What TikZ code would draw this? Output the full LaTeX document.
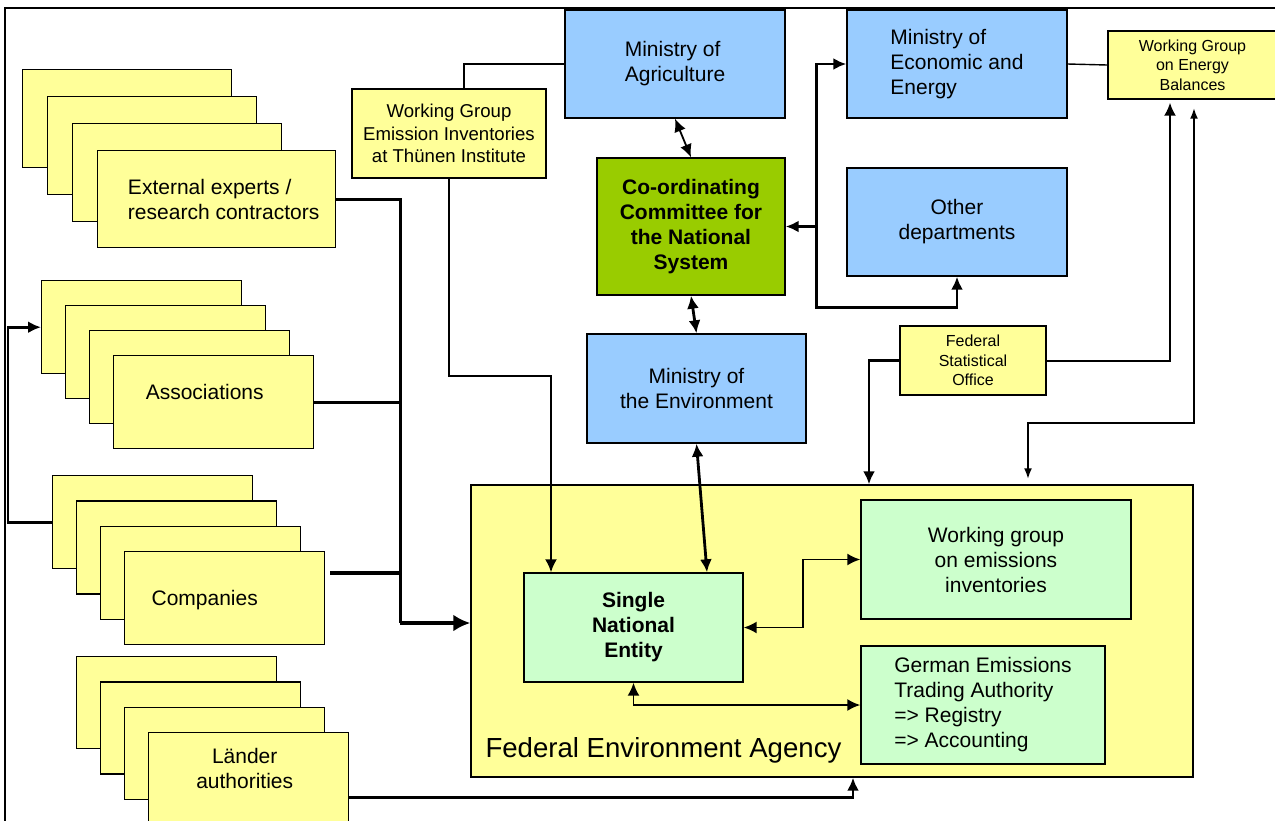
\documentclass[tikz,border=0pt]{standalone}
\usepackage{fontspec}
\setmainfont{Liberation Sans}
\usepackage{tikz}
\usetikzlibrary{arrows.meta}
\usetikzlibrary{positioning}
\usetikzlibrary{calc}
\definecolor{yellowbox}{RGB}{255,255,153}
\definecolor{bluebox}{RGB}{153,204,255}
\definecolor{greenbox}{RGB}{153,204,0}
\definecolor{mintbox}{RGB}{204,255,204}
\newcommand{\boxfont}{\fontsize{21}{25}\selectfont}
\newcommand{\midboxfont}{\fontsize{18.6}{22.5}\selectfont}
\newcommand{\smallboxfont}{\fontsize{16}{19.5}\selectfont}
\newcommand{\agencyfont}{\fontsize{27.6}{33}\selectfont}
\tikzstyle{card} = [rectangle, draw, fill=yellowbox, line width=1.4pt, anchor=north west, minimum width=209pt, minimum height=98pt, inner sep=0pt]
\tikzstyle{box} = [rectangle, draw, line width=1.4pt, align=center, inner sep=0pt, font=\boxfont]
\tikzstyle{tag} = [font=\boxfont, align=left, inner sep=0pt]
\tikzstyle{link} = [line width=2.8pt]

\begin{document}
\begin{tikzpicture}[x=1pt, y=1pt, >={Latex[length=13pt,width=12pt]}]
	\useasboundingbox (0,0) rectangle (1275,-820);
	\draw[line width=1.4pt] (5,-830) -- (5,-8) -- (1280,-8);

	% stacked cards on the left
	\node[card](Exp-1) at (22,-69){};
	\node[card](Exp-2) at ([xshift=25pt,yshift=-27pt]Exp-1.north west){};
	\node[card](Exp-3) at ([xshift=25pt,yshift=-27pt]Exp-2.north west){};
	\node[card, minimum width=238pt, minimum height=97pt](Exp-4) at ([xshift=25pt,yshift=-27pt]Exp-3.north west){};
	\node[tag](Exp-text) at ([xshift=7pt,yshift=-0.5pt]Exp-4.center){External experts /\\research contractors};

	\node[card, minimum width=200pt, minimum height=93pt](Assoc-1) at (41,-280){};
	\node[card, minimum width=200pt, minimum height=93pt](Assoc-2) at ([xshift=24pt,yshift=-25pt]Assoc-1.north west){};
	\node[card, minimum width=200pt, minimum height=93pt](Assoc-3) at ([xshift=24pt,yshift=-25pt]Assoc-2.north west){};
	\node[card, minimum width=200pt, minimum height=93pt](Assoc-4) at ([xshift=24pt,yshift=-25pt]Assoc-3.north west){};
	\node[tag](Assoc-text) at ([xshift=-9pt,yshift=10pt]Assoc-4.center){Associations};

	\node[card, minimum width=200pt, minimum height=93pt](Comp-1) at (52,-475){};
	\node[card, minimum width=200pt, minimum height=93pt](Comp-2) at ([xshift=24pt,yshift=-25.3pt]Comp-1.north west){};
	\node[card, minimum width=200pt, minimum height=93pt](Comp-3) at ([xshift=24pt,yshift=-25.3pt]Comp-2.north west){};
	\node[card, minimum width=200pt, minimum height=93pt](Comp-4) at ([xshift=24pt,yshift=-25.3pt]Comp-3.north west){};
	\node[tag](Comp-text) at ([xshift=-20pt,yshift=-1.5pt]Comp-4.center){Companies};

	\node[card, minimum width=200pt, minimum height=92pt](Land-1) at (76,-656){};
	\node[card, minimum width=200pt, minimum height=92pt](Land-2) at ([xshift=24pt,yshift=-25.3pt]Land-1.north west){};
	\node[card, minimum width=200pt, minimum height=92pt](Land-3) at ([xshift=24pt,yshift=-25.3pt]Land-2.north west){};
	\node[card, minimum width=200pt, minimum height=92pt](Land-4) at ([xshift=24pt,yshift=-25.3pt]Land-3.north west){};
	\node[tag, align=center](Land-text) at ([xshift=-4pt,yshift=10pt]Land-4.center){Länder\\authorities};

	% ministries and committee
	\node[box, fill=yellowbox, font=\midboxfont, minimum width=194pt, minimum height=89pt](Thunen) at (449,-133.5){Working Group\\Emission Inventories\\at Thünen Institute};
	\node[box, fill=bluebox, align=left, minimum width=220pt, minimum height=108pt](MoA) at (675,-64){Ministry of\\Agriculture};
	\node[box, fill=bluebox, align=left, minimum width=220pt, minimum height=108pt](MoEE) at (957,-64){Ministry of\\Economic and\\Energy};
	\node[box, fill=bluebox, minimum width=220pt, minimum height=108pt](Other) at (957,-222){Other\\departments};
	\node[box, fill=greenbox, font=\boxfont\bfseries, minimum width=188pt, minimum height=137pt](CCNS) at (691,-226.5){Co-ordinating\\Committee for\\the National\\System};
	\node[box, fill=bluebox, minimum width=219pt, minimum height=109pt](MoE) at (696.5,-388.5){Ministry of\\the Environment};
	\node[box, fill=yellowbox, font=\smallboxfont, minimum width=169pt, minimum height=68pt](WGEB) at (1192.5,-65){Working Group\\on Energy\\Balances};
	\node[box, fill=yellowbox, font=\smallboxfont, minimum width=146pt, minimum height=69pt](FSO) at (973,-360.5){Federal\\Statistical\\Office};

	% federal environment agency
	\node[box, fill=yellowbox, minimum width=722pt, minimum height=292pt](FEA) at (832,-631){};
	\node[font=\agencyfont, anchor=base west, inner sep=0pt](FEA-text) at ([xshift=15pt,yshift=20pt]FEA.south west){Federal Environment Agency};
	\node[box, fill=mintbox, font=\boxfont\bfseries, minimum width=219pt, minimum height=109pt](SNE) at (633.5,-627.5){Single\\National\\Entity};
	\node[box, fill=mintbox, minimum width=270pt, minimum height=119pt](WGEI) at (996,-559.5){Working group\\on emissions\\inventories};
	\node[box, fill=mintbox, align=left, minimum width=244pt, minimum height=118pt](GETA) at (983,-705){German Emissions\\Trading Authority\\=> Registry\\=> Accounting};

	% connectors
	\draw[line width=1.4pt] ([xshift=15pt]Thunen.north) |- (MoA.west);
	\draw[line width=1.4pt] (MoEE.east) -- (WGEB.west);
	\draw[line width=2pt, ->] (Thunen.south) |- ([xshift=-82.5pt,yshift=196pt]SNE.north) -- ([xshift=-82.5pt]SNE.north);

	\coordinate (bus) at ([xshift=-70pt,yshift=8pt]FEA.west);
	\draw[link] (Exp-4.east) -| (bus);
	\draw[link] (Assoc-4.east) -| (bus);
	\draw[line width=3.5pt] ([xshift=5pt,yshift=25pt]Comp-4.east) -| (bus);
	\draw[line width=4pt, -{Latex[length=17pt,width=17pt]}] (bus) -- ([yshift=8pt]FEA.west);
	\draw[link, ->] (Comp-1.west) -- ++(-44,0) |- (Assoc-1.west);
	\draw[link, ->] ([yshift=-19pt]Land-4.east) -| ([xshift=21pt]FEA.south);

	\draw[line width=1.8pt, <->] (MoA.south) -- (CCNS.north);
	\draw[link, <->] (CCNS.south) -- (MoE.north);
	\draw[link, <->] (MoE.south) -- ([xshift=73.5pt]SNE.north);

	\coordinate (hub) at ([xshift=31pt]CCNS.east);
	\draw[link, ->] (hub) |- (MoEE.west);
	\draw[link, ->] (hub) -- (CCNS.east);
	\draw[link, ->] (hub) |- ([yshift=-31pt]Other.south) -- (Other.south);

	\draw[link, ->] (FSO.west) -| ([xshift=37pt]FEA.north);
	\draw[line width=2pt, ->] (FSO.east) -| ([xshift=-22.5pt,yshift=-3pt]WGEB.south);
	\draw[line width=2.4pt, {Latex[length=11pt,width=8pt]}-{Latex[length=11pt,width=8pt]}] ([xshift=196pt,yshift=5pt]FEA.north) |- ([xshift=1.5pt,yshift=-323pt]WGEB.south) -- ([xshift=1.5pt,yshift=-8pt]WGEB.south);

	\draw[line width=1.8pt, <->] (SNE.east) -- ++(59,0) |- (WGEI.west);
	\draw[line width=1.8pt, <->] (SNE.south) |- (GETA.west);

\end{tikzpicture}
\end{document}
